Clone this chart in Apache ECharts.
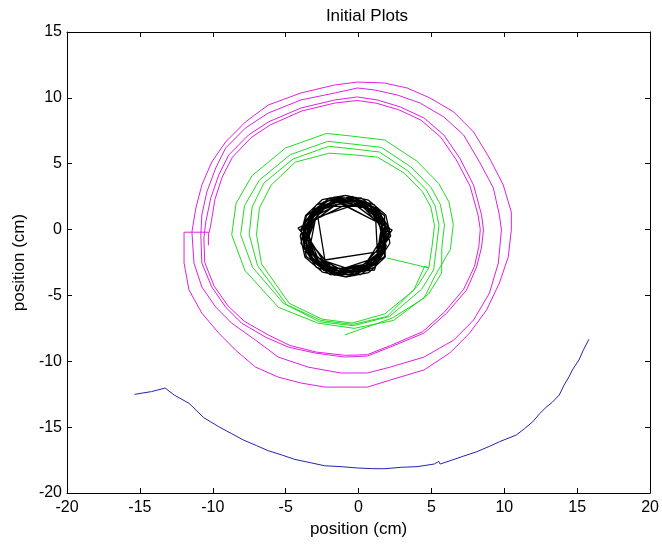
<!DOCTYPE html>
<html><head><meta charset="utf-8">
<script src="https://cdn.jsdelivr.net/npm/echarts@6/dist/echarts.min.js"></script>
<style>html,body{margin:0;padding:0;background:#fff}#c{width:662px;height:546px}</style>
</head><body><div id="c"></div>
<script>
const titleText = 'Initial Plots';
const xName = 'position (cm)';
const yName = 'position (cm)';
const xTicks = [-20, 20, 5];
const yTicks = [-20, 15, 5];

const bluePts = [[-15.37,-12.51],[-14.2,-12.3],[-13.27,-12.03],[-12.65,-12.56],[-11.63,-13.19],[-10.61,-14.29],[-9.59,-14.97],[-8.7,-15.5],[-7.89,-15.98],[-7.0,-16.4],[-6.19,-16.79],[-5.3,-17.1],[-4.37,-17.45],[-3.3,-17.7],[-2.33,-17.93],[-1.2,-18.0],[-0.07,-18.1],[0.9,-18.15],[1.75,-18.16],[2.9,-18.05],[4.01,-18.0],[5.2,-17.8],[5.5,-17.6],[5.6,-17.8],[6.28,-17.55],[7.2,-17.2],[8.1,-16.87],[9.0,-16.45],[9.68,-16.1],[10.82,-15.6],[11.4,-15.1],[11.95,-14.59],[12.4,-14.0],[12.86,-13.5],[13.3,-13.1],[13.77,-12.56],[14.1,-11.8],[14.44,-11.17],[14.7,-10.6],[15.12,-9.9],[15.4,-9.2],[15.5,-9.3],[15.8,-8.33]];

const magentaPts = [[-10.3,-1.2],[-10.3,-0.2],[-11.97,-0.2],
[-11.97,-2.54],[-11.63,-4.59],[-10.75,-6.34],[-9.59,-7.86],[-8.44,-9.15],[-7.07,-10.44],[-5.51,-11.2],[-3.95,-11.65],[-2.31,-11.96],[0.61,-11.96],[2.18,-11.42],[4.49,-10.66],[6.26,-9.37],[7.62,-7.86],[8.78,-6.11],[9.66,-4.06],[10.27,-2.08],[10.48,-0.03],[10.48,1.33],[9.93,3.38],[8.98,5.43],[7.89,7.41],[6.53,8.93],[4.9,9.99],[3.33,10.75],[1.77,11.13],[-0.07,11.2],[-1.63,10.98],[-3.95,10.37],[-6.19,9.46],[-7.76,8.17],[-9.12,6.65],[-10.07,5.13],[-10.75,3.38],[-11.16,1.64],[-11.43,-0.19],
[-11.29,-2.54],[-10.75,-4.36],[-9.8,-5.88],[-8.71,-7.1],[-7.07,-8.39],[-5.51,-9.68],[-3.47,-10.44],[-1.22,-10.89],[0.61,-10.89],[2.18,-10.44],[4.49,-9.68],[6.53,-8.39],[7.89,-6.87],[8.98,-4.82],[9.59,-2.54],[9.8,-0.03],[9.66,1.1],[9.25,3.15],[8.3,5.13],[7.21,7.18],[5.85,8.55],[4.22,9.61],[2.65,10.22],[1.09,10.6],[-0.07,10.75],[-1.63,10.37],[-3.95,9.84],[-6.19,8.85],[-7.76,7.71],[-9.12,6.19],[-9.8,4.67],[-10.41,2.85],[-10.75,1.1],[-10.82,-0.41],
[-10.75,-2.54],[-10.07,-4.36],[-9.12,-5.88],[-8.03,-7.1],[-6.39,-8.16],[-4.83,-8.92],[-3.0,-9.37],[-0.95,-9.68],[0.61,-9.6],[2.18,-8.92],[4.49,-7.86],[6.05,-6.34],[7.41,-4.59],[8.1,-2.84],[8.44,-1.33],[8.57,-0.03],[8.44,1.1],[7.89,3.38],[6.94,5.43],[5.85,7.18],[4.49,8.47],[2.86,9.31],[1.29,9.84],[-0.07,10.07],[-1.63,9.84],[-3.95,9.23],[-6.19,8.17],[-7.55,7.18],[-8.91,5.66],[-9.59,4.14],[-10.14,2.39],[-10.48,0.57],[-10.61,-0.64],
[-10.55,-2.5],[-9.9,-4.3],[-8.95,-5.8],[-7.85,-6.95],[-6.2,-8.0],[-4.7,-8.8],[-2.9,-9.3],[-0.9,-9.55],[0.6,-9.5],[2.2,-8.8],[4.4,-7.75],[5.9,-6.25],[7.2,-4.55],[7.95,-2.8],[8.25,-1.3],[8.35,0.0],[8.2,1.1],[7.65,3.3],[6.7,5.3],[5.65,7.0],[4.3,8.3],[2.75,9.1],[1.2,9.6],[-0.1,9.8],[-1.65,9.6],[-3.9,9.0],[-6.05,7.95],[-7.35,7.0],[-8.65,5.5],[-9.35,4.0],[-9.85,2.3],[-10.1,0.6],[-10.25,-0.25]];

const greenPts = [[1.97,-2.16],[4.83,-2.92],
[4.54,-2.77],[3.79,-4.6],[1.8,-6.4],[-0.44,-7.1],[-2.51,-6.8],[-4.76,-5.6],[-6.66,-2.6],[-7.0,-0.36],[-6.8,1.63],[-6.0,3.37],[-4.34,5.12],[-2.02,5.8],[-0.61,5.7],[1.3,5.5],[3.13,4.29],[4.38,2.88],[4.96,1.71],[5.21,0.3],[5.04,-1.28],
[4.82,-2.9],[4.04,-4.29],[1.95,-6.6],[-0.4,-7.2],[-2.58,-6.9],[-4.93,-5.7],[-6.93,-2.73],[-7.5,-0.38],[-7.3,1.71],[-6.49,3.54],[-4.49,5.36],[-2.05,6.32],[-0.58,6.15],[1.43,5.89],[3.34,4.49],[4.65,3.02],[5.25,1.8],[5.52,0.32],[5.34,-1.34],
[5.15,-3.05],[4.33,-4.53],[2.12,-6.6],[-0.37,-7.3],[-2.67,-7.0],[-5.15,-5.6],[-7.27,-2.87],[-8.09,-0.39],[-7.82,1.82],[-6.81,3.75],[-4.69,5.68],[-2.11,6.7],[-0.55,6.51],[1.57,6.24],[3.59,4.76],[4.97,3.2],[5.61,1.91],[5.89,0.35],[5.71,-1.4],
[5.7,-3.3],[4.8,-4.9],[2.4,-6.9],[-0.3,-7.5],[-2.8,-7.1],[-5.5,-5.9],[-7.8,-3.1],[-8.7,-0.4],[-8.4,2.0],[-7.3,4.1],[-5.0,6.2],[-2.2,7.3],[-0.5,7.1],[1.8,6.8],[4.0,5.2],[5.5,3.5],[6.2,2.1],[6.5,0.4],[6.3,-1.5],
[5.2,-3.6],[4.5,-5.2],[2.31,-6.72],[-0.95,-8.0]];

const blackPts = [
[1.9,-0.5],[1.3,1.2],[-0.4,2.3],[-2.2,1.9],[-3.5,0.5],[-3.6,-1.4],[-2.3,-2.9],[-0.4,-3.3],[1.2,-2.4],
[1.6,0.4],[0.5,1.9],[-1.4,2.2],[-3.0,1.2],[-3.6,-0.5],[-2.9,-2.3],[-1.4,-3.1],[0.4,-2.8],[1.7,-1.4],
[1.8,-0.5],[1.52,0.9],[0.4,1.75],[-0.9,2.25],[-2.23,1.79],[-3.32,0.9],[-3.6,-0.5],[-3.15,-1.8],[-2.3,-2.92],[-0.9,-3.2],[0.43,-2.79],[1.48,-1.88],
[2.1,-0.4],[1.4,1.5],[-0.4,2.5],[-2.4,2.1],[-3.7,0.6],[-3.7,-1.5],[-2.4,-3.1],[-0.3,-3.5],[1.4,-2.4],
[1.9,0.25],[1.22,1.62],[-0.14,2.35],[-1.69,2.45],[-2.95,1.55],[-3.8,0.28],[-3.75,-1.26],[-2.95,-2.55],[-1.69,-3.45],[-0.14,-3.35],[1.22,-2.62],[1.9,-1.25],
[1.45,0.36],[0.35,1.67],[-1.33,1.96],[-2.82,1.11],[-3.4,-0.5],[-2.82,-2.11],[-1.33,-2.96],[0.35,-2.67],[1.45,-1.36],
[2.31,-0.03],[-0.95,1.86],[-4.15,0.12],[-1.56,-3.3],[1.09,-3.07],
[1.96,0.0],[0.96,1.72],[-0.9,2.4],[-2.76,1.72],[-3.76,0.0],[-3.41,-1.95],[-1.89,-3.23],[0.09,-3.23],[1.61,-1.95],
[1.6,-0.5],[1.35,0.8],[0.35,1.67],[-0.9,2.05],[-2.2,1.75],[-3.07,0.75],[-3.45,-0.5],[-3.07,-1.75],[-2.2,-2.75],[-0.9,-3.05],[0.35,-2.67],[1.35,-1.8],
[1.66,-0.05],[0.77,1.49],[-0.9,2.1],[-2.57,1.49],[-3.46,-0.05],[-3.15,-1.8],[-1.79,-2.94],[-0.01,-2.94],[1.35,-1.8],
[1.8,0.23],[1.15,1.55],[-0.16,2.25],[-1.63,2.2],[-2.95,1.55],[-3.65,0.24],[-3.6,-1.23],[-2.95,-2.55],[-1.64,-3.25],[-0.17,-3.2],[1.15,-2.55],[1.85,-1.24],
[1.52,0.9],[0.06,2.13],[-1.86,2.13],[-3.32,0.9],[-3.66,-0.99],[-2.7,-2.64],[-0.9,-3.3],[0.9,-2.64],[1.86,-0.99],
[2.2,-0.5],[1.87,1.1],[0.68,2.23],[-0.9,2.6],[-2.5,2.27],[-3.63,1.08],[-4.0,-0.5],[-3.67,-2.1],[-2.48,-3.23],[-0.9,-3.6],[0.7,-3.27],[1.83,-2.08],
[1.78,1.05],[0.16,2.41],[-1.96,2.41],[-3.58,1.05],[-3.95,-1.04],[-2.89,-2.87],[-0.9,-3.6],[1.09,-2.87],[2.15,-1.04],
[1.97,0.19],[-0.75,1.71],[-2.79,0.95],[-2.31,-2.31],[1.29,-1.7],
[1.18,0.7],[-0.08,1.76],[-1.72,1.76],[-2.98,0.7],[-3.26,-0.92],[-2.44,-2.34],[-0.9,-2.9],[0.64,-2.34],[1.46,-0.92],
[1.66,0.19],[1.04,1.44],[-0.2,2.11],[-1.59,2.06],[-2.84,1.44],[-3.51,0.2],[-3.46,-1.19],[-2.84,-2.44],[-1.6,-3.11],[-0.21,-3.06],[1.04,-2.44],[1.71,-1.2],
[1.7,-0.45],[1.1,1.2],[-0.45,2.1],[-2.2,1.75],[-3.35,0.4],[-3.4,-1.4],[-2.2,-2.75],[-0.45,-3.1],[1.1,-2.2],
[2.15,0.04],[1.09,1.87],[-0.9,2.6],[-2.89,1.87],[-3.95,0.04],[-3.58,-2.05],[-1.96,-3.41],[0.16,-3.41],[1.78,-2.05],
[1.83,0.49],[0.55,2.01],[-1.4,2.36],[-3.12,1.36],[-3.8,-0.5],[-3.12,-2.36],[-1.4,-3.36],[0.55,-3.01],[1.83,-1.49],
[1.9,-0.3]];

const FONT = 'Liberation Sans';
const chart = echarts.init(document.getElementById('c'), null, {renderer:'canvas'});
const axCommon = {
  axisLine:{show:true,onZero:false,lineStyle:{color:'#000',width:1}},
  axisTick:{show:true,inside:true,length:5,lineStyle:{color:'#000'}},
  splitLine:{show:false}
};
function line(pts, color, w){
  return {type:'line', data:pts, showSymbol:false, symbol:'none', smooth:false,
    lineStyle:{color:color,width:w}, itemStyle:{color:color}, silent:true, clip:true};
}
chart.setOption({
  animation:false,
  backgroundColor:'#fff',
  title:{text:titleText,left:362,top:3,textAlign:'center',
    textStyle:{fontFamily:FONT,fontSize:17,fontWeight:'normal',color:'#000'}},
  grid:{left:67,right:7,top:32,bottom:53,containLabel:false},
  xAxis:[
    Object.assign({type:'value',position:'bottom',min:xTicks[0],max:xTicks[1],interval:xTicks[2],
      name:xName,nameLocation:'middle',nameGap:27,
      nameTextStyle:{fontFamily:FONT,fontSize:17,color:'#000'},
      axisLabel:{fontFamily:FONT,fontSize:16,color:'#000',margin:7}},axCommon),
    Object.assign({type:'value',position:'top',min:xTicks[0],max:xTicks[1],interval:xTicks[2],
      axisLabel:{show:false}},axCommon)
  ],
  yAxis:[
    Object.assign({type:'value',position:'left',min:yTicks[0],max:yTicks[1],interval:yTicks[2],
      name:yName,nameLocation:'middle',nameGap:38,
      nameTextStyle:{fontFamily:FONT,fontSize:17,color:'#000'},
      axisLabel:{fontFamily:FONT,fontSize:16,color:'#000',margin:5}},axCommon),
    Object.assign({type:'value',position:'right',min:yTicks[0],max:yTicks[1],interval:yTicks[2],
      axisLabel:{show:false}},axCommon)
  ],
  series:[
    line(bluePts,'#2424b4',1),
    line(magentaPts,'#e020e0',1),
    line(greenPts,'#20dc20',1),
    line(blackPts,'#000000',1.3)
  ]
});
</script></body></html>
